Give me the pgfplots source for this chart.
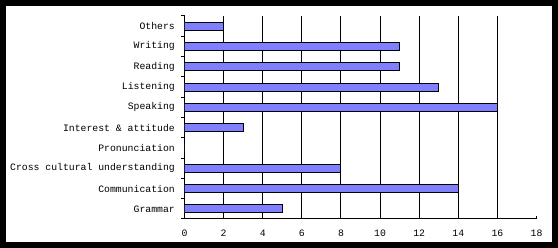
\documentclass[border=0pt]{standalone}
\usepackage{fontspec}
\setmainfont{Liberation Mono}
\usepackage{pgfplots}
\pgfplotsset{compat=1.18}
\definecolor{barblue}{RGB}{128,128,255}
\begin{document}
\begin{tikzpicture}
\fill[black] (0bp,0bp) rectangle (558bp,248bp);
\fill[white] (6bp,6bp) rectangle (552bp,242bp);
\begin{axis}[
  at={(184.5bp,29bp)}, anchor=south west,
  scale only axis, width=352bp, height=203bp,
  xmin=0, xmax=18, ymin=-0.5, ymax=9.5,
  axis x line*=bottom, axis y line*=left,
  axis line style={black, line width=1bp, -},
  xtick={0,2,...,18}, tick align=inside,
  major tick length=3bp, minor tick length=3bp,
  every major x tick/.style={black, line width=1bp},
  extra x ticks={2,4,...,16}, extra x tick labels={},
  extra x tick style={grid=major, major grid style={black, line width=1bp}},
  ytick={0,...,9},
  yticklabels={Grammar,Communication,Cross cultural understanding,Pronunciation,Interest \& attitude,Speaking,Listening,Reading,Writing,Others},
  every major y tick/.style={draw=none},
  minor ytick={-0.5,0.5,...,9.5},
  every minor y tick/.style={black, line width=1bp},
  /pgf/number format/assume math mode=true,
  tick label style={font=\fontsize{9.8bp}{12bp}\selectfont, inner sep=0pt},
  yticklabel style={anchor=east, xshift=-6.5bp},
  xticklabel style={anchor=north, yshift=-11bp},
  xbar, bar width=8bp,
]
\addplot[fill=barblue, draw=black, line width=1bp] coordinates {
 (5,0) (14,1) (8,2) (0,3) (3,4) (16,5) (13,6) (11,7) (11,8) (2,9)
};
\end{axis}
\end{tikzpicture}
\end{document}
